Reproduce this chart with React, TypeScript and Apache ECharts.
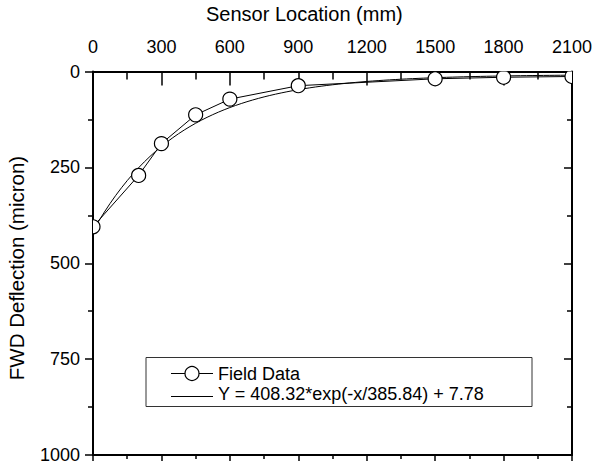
import { useEffect, useRef } from "react";
import * as echarts from "echarts";

// Measured FWD deflection basin
const sensorLocations = [0, 200, 300, 450, 600, 900, 1500, 1800, 2100];
const fieldDeflections = [405, 271, 188, 113, 72, 37, 19, 15, 13];

// Axis ranges and tick steps
const xRange = [0, 2100];
const xStep = 300;
const yRange = [0, 1000];
const yStep = 250;

// Fitted exponential model: Y = A*exp(-x/B) + C
const FIT_A = 408.32;
const FIT_B = 385.84;
const FIT_C = 7.78;
const FIT_SAMPLE_STEP = 25;

const seriesNames = ["Field Data", "Y = 408.32*exp(-x/385.84) + 7.78"];
const xTitle = "Sensor Location (mm)";
const yTitle = "FWD Deflection (micron)";

const FONT = "'Liberation Sans', Arial, sans-serif";

function fitCurve(): number[][] {
  const pts: number[][] = [];
  for (let x = xRange[0]; x <= xRange[1]; x += FIT_SAMPLE_STEP) {
    pts.push([x, FIT_A * Math.exp(-x / FIT_B) + FIT_C]);
  }
  return pts;
}

const plain = (v: number) => String(v);

export default function App() {
  const ref = useRef<HTMLDivElement>(null);

  useEffect(() => {
    if (!ref.current) return;
    const chart = echarts.init(ref.current, undefined, { renderer: "svg" });

    const fieldPairs = sensorLocations.map((x, i) => [x, fieldDeflections[i]]);
    const black = "#000";
    const axisLine = { show: true, onZero: false, lineStyle: { color: black, width: 2 } };
    const tickStyle = { color: black, width: 1.5 };

    const xBase = {
      type: "value" as const,
      min: xRange[0],
      max: xRange[1],
      interval: xStep,
      splitLine: { show: false },
      axisLine,
    };
    const yBase = {
      type: "value" as const,
      inverse: true,
      min: yRange[0],
      max: yRange[1],
      interval: yStep,
      splitLine: { show: false },
      axisLine,
    };

    chart.setOption({
      animation: false,
      backgroundColor: "#fff",
      grid: { left: 93, right: 24, top: 71.5, bottom: 11, containLabel: false },
      xAxis: [
        {
          ...xBase,
          position: "top",
          axisTick: { show: true, inside: true, length: 14, lineStyle: tickStyle },
          minorTick: { show: true, splitNumber: 2, length: 8, lineStyle: tickStyle },
          axisLabel: { margin: 16, fontSize: 18, color: black, fontFamily: FONT, formatter: plain },
        },
        {
          ...xBase,
          position: "bottom",
          axisTick: { show: true, inside: false, length: 6, lineStyle: tickStyle },
          minorTick: { show: true, splitNumber: 2, length: 4, lineStyle: tickStyle },
          axisLabel: { show: false },
        },
      ],
      yAxis: [
        {
          ...yBase,
          position: "left",
          axisTick: { show: true, inside: false, length: 8, lineStyle: tickStyle },
          minorTick: { show: true, splitNumber: 2, length: 5, lineStyle: tickStyle },
          axisLabel: { margin: 13, fontSize: 18, color: black, fontFamily: FONT, formatter: plain },
        },
        {
          ...yBase,
          position: "right",
          axisTick: { show: true, inside: true, length: 8, lineStyle: tickStyle },
          minorTick: { show: true, splitNumber: 2, length: 5, lineStyle: tickStyle },
          axisLabel: { show: false },
        },
      ],
      series: [
        {
          name: seriesNames[1],
          type: "line",
          data: fitCurve(),
          showSymbol: false,
          smooth: false,
          lineStyle: { color: black, width: 1 },
          z: 2,
        },
        {
          name: seriesNames[0],
          type: "line",
          data: fieldPairs,
          showSymbol: false,
          lineStyle: { color: black, width: 1 },
          z: 3,
        },
        {
          name: seriesNames[0] + " markers",
          type: "custom",
          clip: true,
          data: fieldPairs,
          encode: { x: 0, y: 1 },
          z: 4,
          renderItem: (_params: any, api: any) => {
            const p = api.coord([api.value(0), api.value(1)]);
            return {
              type: "circle",
              shape: { cx: p[0], cy: p[1], r: 7 },
              style: { fill: "#fff", stroke: black, lineWidth: 1.2 },
            };
          },
        },
      ],
      graphic: [
        {
          type: "text",
          left: 206,
          top: 4,
          style: { text: xTitle, fontSize: 20, fill: black, fontFamily: FONT },
        },
        {
          type: "text",
          x: 16,
          y: 268,
          rotation: Math.PI / 2,
          style: {
            text: yTitle,
            fontSize: 20.5,
            fill: black,
            fontFamily: FONT,
            align: "center",
            verticalAlign: "middle",
          },
        },
        // legend box
        {
          type: "rect",
          shape: { x: 146, y: 357.5, width: 386, height: 49 },
          style: { fill: "#fff", stroke: "#333", lineWidth: 1 },
          z: 10,
        },
        {
          type: "line",
          shape: { x1: 171, y1: 373.5, x2: 213, y2: 373.5 },
          style: { stroke: black, lineWidth: 1 },
          z: 11,
        },
        {
          type: "circle",
          shape: { cx: 192, cy: 373.5, r: 7 },
          style: { fill: "#fff", stroke: black, lineWidth: 1.2 },
          z: 12,
        },
        {
          type: "text",
          x: 218,
          y: 374,
          style: { text: seriesNames[0], fontSize: 18, fill: black, fontFamily: FONT, verticalAlign: "middle" },
          z: 12,
        },
        {
          type: "line",
          shape: { x1: 171, y1: 396.5, x2: 213, y2: 396.5 },
          style: { stroke: black, lineWidth: 1 },
          z: 11,
        },
        {
          type: "text",
          x: 218,
          y: 394,
          style: { text: seriesNames[1], fontSize: 18, fill: black, fontFamily: FONT, verticalAlign: "middle" },
          z: 12,
        },
      ],
    });

    return () => chart.dispose();
  }, []);

  return (
    <div
      ref={ref}
      style={{ position: "fixed", left: 0, top: 0, width: 596, height: 466, background: "#fff" }}
    />
  );
}
